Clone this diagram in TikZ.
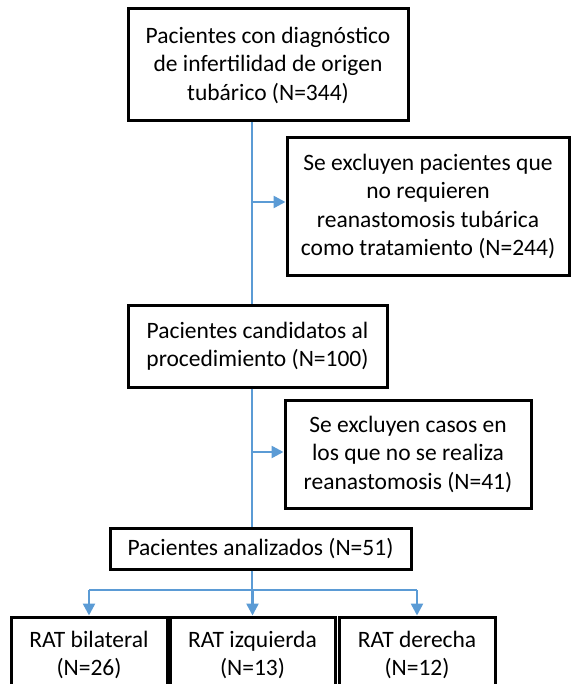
\documentclass[tikz,border=0pt]{standalone}
\usepackage{fontspec}
\setmainfont{Carlito}
\usepackage{tikz}
\usetikzlibrary{positioning, arrows.meta}

\definecolor{flowblue}{RGB}{91,155,213}

\begin{document}
\begin{tikzpicture}[x=1pt, y=-1pt, >={Triangle[length=12pt,width=12pt]},
    box/.style={draw, line width=3pt, align=center, inner sep=0pt,
        font=\fontsize{23.5}{28.5}\selectfont},
    link/.style={draw=flowblue, line width=1.3pt},
    arr/.style={->, draw=flowblue, fill=flowblue, line width=2.5pt}]
    \useasboundingbox (0,0) rectangle (571,684);

    \node[box, minimum width=280pt, minimum height=112pt] (diag) at (268,65)
        {Pacientes con diagnóstico\\de infertilidad de origen\\tubárico (N=344)};
    \node[box, minimum width=282pt, minimum height=137pt] (excl1) at (428,206.5)
        {Se excluyen pacientes que\\no requieren\\reanastomosis tubárica\\como tratamiento (N=244)};
    \node[box, minimum width=259pt, minimum height=82pt] (cand) at (257.5,346)
        {Pacientes candidatos al\\procedimiento (N=100)};
    \node[box, minimum width=246pt, minimum height=108pt] (excl2) at (408,454)
        {Se excluyen casos en\\los que no se realiza\\reanastomosis (N=41)};
    \node[box, minimum width=301pt, minimum height=41pt] (anal) at (260.5,548.5)
        {Pacientes analizados (N=51)};
    \node[box, minimum width=156pt, minimum height=76pt] (bilat) at (89,655)
        {RAT bilateral\\(N=26)};
    \node[box, minimum width=165pt, minimum height=76pt] (izq) at (252.5,655)
        {RAT izquierda\\(N=13)};
    \node[box, minimum width=156pt, minimum height=76pt] (der) at (417,655)
        {RAT derecha\\(N=12)};

    % spine
    \coordinate (j1) at (252,202);
    \coordinate (j2) at (252,452);
    \coordinate (j3) at (252,590);

    \draw[link] (diag.south -| j1) -- (cand.north -| j1);
    \draw[link] (cand.south -| j1) -- (anal.north -| j1);
    \draw[link] (anal.south -| j1) -- (j3);
    \draw[arr] (j1) -- (j1 -| excl1.west);
    \draw[arr] (j2) -- (j2 -| excl2.west);

    % branches
    \draw[link] (bilat.north |- j3) -- (der.north |- j3);
    \draw[arr] (bilat.north |- j3) -- (bilat.north);
    \draw[arr] (izq.north |- j3) -- (izq.north);
    \draw[arr] (der.north |- j3) -- (der.north);
\end{tikzpicture}
\end{document}
